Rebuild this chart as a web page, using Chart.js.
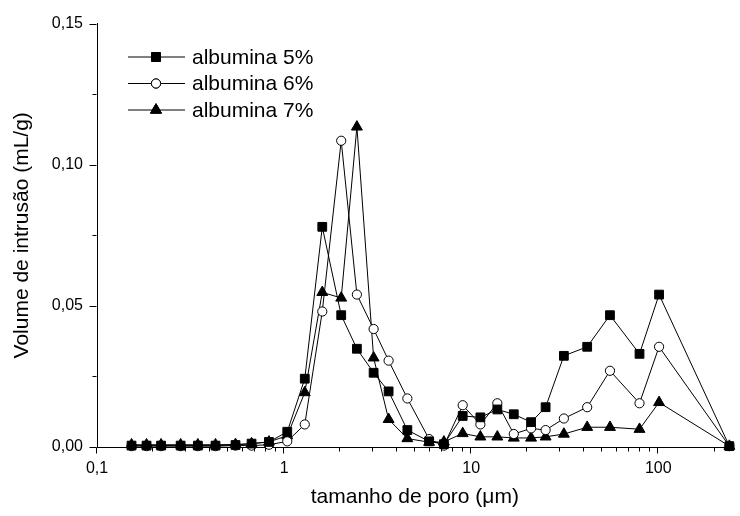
<!DOCTYPE html>
<html>
<head>
<meta charset="utf-8">
<script src="https://cdn.jsdelivr.net/npm/chart.js@4.4.0/dist/chart.umd.min.js"></script>
<style>
  html, body { margin: 0; padding: 0; background: #fff; }
  #wrap { width: 740px; height: 516px; }
</style>
</head>
<body>
<div id="wrap"><canvas id="poreChart"></canvas></div>
<script>
// pore size (um), shared by the three series
const poreSize = [0.153, 0.184, 0.22, 0.28, 0.346, 0.43, 0.55, 0.67, 0.83, 1.04,
    1.29, 1.60, 2.02, 2.45, 3.01, 3.62, 4.56, 5.96, 7.15, 9.01,
    11.2, 13.8, 16.9, 20.9, 25.0, 31.3, 41.7, 55.2, 79.4, 101, 240];

// intrusion volume (mL/g)
const albumina5 = [0.0005, 0.0005, 0.0005, 0.0005, 0.0005, 0.0005, 0.0007, 0.0012, 0.0018, 0.0054,
    0.0242, 0.078, 0.0467, 0.0348, 0.0263, 0.0197, 0.006, 0.002, 0.001, 0.011,
    0.0105, 0.0133, 0.0116, 0.0088, 0.0141, 0.0323, 0.0355, 0.0467, 0.033, 0.054, 0.0003];
const albumina6 = [0.0003, 0.0003, 0.0003, 0.0003, 0.0003, 0.0003, 0.0005, 0.0005, 0.0008, 0.002,
    0.008, 0.048, 0.1085, 0.054, 0.0418, 0.0306, 0.0172, 0.0028, 0.0005, 0.0148,
    0.008, 0.0155, 0.0046, 0.0066, 0.006, 0.0101, 0.0141, 0.027, 0.0155, 0.0355, 0.0003];
const albumina7 = [0.0008, 0.0008, 0.0008, 0.0008, 0.0008, 0.0008, 0.0009, 0.0012, 0.0018, 0.004,
    0.0193, 0.0548, 0.0528, 0.1134, 0.0316, 0.0098, 0.003, 0.0017, 0.0018, 0.0048,
    0.0036, 0.0036, 0.0032, 0.0032, 0.0036, 0.0046, 0.007, 0.007, 0.0063, 0.0158, 0.0003];

const seriesNames = ['albumina 5%', 'albumina 6%', 'albumina 7%'];

// axis ticks
const xMajorTicks = [0.1, 1, 10, 100];
const xTickLabels = ['0,1', '1', '10', '100'];
const xMinorTicks = [0.2, 0.3, 0.4, 0.5, 0.6, 0.7, 0.8, 0.9, 2, 3, 4, 5, 6, 7, 8, 9,
    20, 30, 40, 50, 60, 70, 80, 90, 200];
const yMajorTicks = [0, 0.05, 0.10, 0.15];
const yTickLabels = ['0,00', '0,05', '0,10', '0,15'];
const yMinorTicks = [0.025, 0.075, 0.125];

const FONT = "'Liberation Sans', Arial, sans-serif";

function toPoints(values) {
    return poreSize.map((x, i) => ({ x: x, y: values[i] }));
}

const styles = [
    { pointStyle: 'rect', pointRadius: 6.2, fill: '#000' },
    { pointStyle: 'circle', pointRadius: 4.6, fill: '#fff' },
    { pointStyle: 'triangle', pointRadius: 6.3, fill: '#000' }
];

// tick marks: longer majors, short minors, drawn outside the axes
const tickMarks = {
    id: 'tickMarks',
    afterDraw(chart) {
        const ctx = chart.ctx;
        const xs = chart.scales.x;
        const ys = chart.scales.y;
        ctx.save();
        ctx.strokeStyle = '#000';
        ctx.lineWidth = 1;
        ctx.beginPath();
        const bottom = Math.round(ys.bottom) + 0.5;
        const left = Math.round(xs.left) - 0.5;
        xMajorTicks.forEach(v => {
            const px = Math.round(xs.getPixelForValue(v)) - 0.5;
            ctx.moveTo(px, bottom); ctx.lineTo(px, bottom + 6);
        });
        xMinorTicks.forEach(v => {
            const px = Math.round(xs.getPixelForValue(v)) - 0.5;
            ctx.moveTo(px, bottom); ctx.lineTo(px, bottom + 4);
        });
        yMajorTicks.forEach(v => {
            const py = Math.round(ys.getPixelForValue(v)) + 0.5;
            ctx.moveTo(left, py); ctx.lineTo(left - 7, py);
        });
        yMinorTicks.forEach(v => {
            const py = Math.round(ys.getPixelForValue(v)) + 0.5;
            ctx.moveTo(left, py); ctx.lineTo(left - 4, py);
        });
        ctx.stroke();
        ctx.restore();
    }
};

// legend in the top-left corner: line with marker, then label
const lineLegend = {
    id: 'lineLegend',
    afterDraw(chart) {
        const ctx = chart.ctx;
        ctx.save();
        chart.data.datasets.forEach((ds, i) => {
            const y = 57 + i * 26.5;
            ctx.strokeStyle = '#000';
            ctx.lineWidth = 1;
            ctx.beginPath();
            ctx.moveTo(128, y); ctx.lineTo(185, y);
            ctx.stroke();
            Chart.helpers.drawPoint(ctx, {
                pointStyle: ds.pointStyle,
                radius: ds.pointRadius,
                borderWidth: 1,
                rotation: 0
            }, 156, y);
            ctx.fillStyle = ds.pointBackgroundColor;
            ctx.strokeStyle = '#000';
            ctx.fill();
            ctx.stroke();
            ctx.fillStyle = '#000';
            ctx.font = '21px ' + FONT;
            ctx.textBaseline = 'middle';
            ctx.fillText(ds.label, 192, y + 1);
        });
        ctx.restore();
    }
};

const datasets = [albumina5, albumina6, albumina7].map((vals, i) => ({
    label: seriesNames[i],
    data: toPoints(vals),
    showLine: true,
    borderColor: '#000',
    borderWidth: 1,
    pointStyle: styles[i].pointStyle,
    pointRadius: styles[i].pointRadius,
    pointBackgroundColor: styles[i].fill,
    pointBorderColor: '#000',
    pointBorderWidth: 1,
    tension: 0,
    clip: false
}));

new Chart(document.getElementById('poreChart'), {
    type: 'scatter',
    data: { datasets: datasets },
    plugins: [tickMarks, lineLegend],
    options: {
        responsive: true,
        maintainAspectRatio: false,
        animation: false,
        layout: { padding: { top: 20, right: 0, left: 0, bottom: 0 } },
        plugins: {
            legend: { display: false },
            tooltip: { enabled: false }
        },
        scales: {
            x: {
                type: 'logarithmic',
                min: 0.1,
                max: 250,
                afterBuildTicks: scale => {
                    scale.ticks = xMajorTicks.concat(xMinorTicks)
                        .sort((a, b) => a - b)
                        .map(v => ({ value: v }));
                },
                afterFit: scale => { scale.height = 69; },
                grid: { display: false, drawTicks: false },
                border: { display: true, color: '#000', width: 1 },
                ticks: {
                    autoSkip: false,
                    maxRotation: 0,
                    padding: 12,
                    color: '#000',
                    font: { family: FONT, size: 16 },
                    callback: value => {
                        const k = xMajorTicks.indexOf(value);
                        return k >= 0 ? xTickLabels[k] : '';
                    }
                },
                title: {
                    display: true,
                    text: 'tamanho de poro (\u03bcm)',
                    color: '#000',
                    font: { family: FONT, size: 21 },
                    padding: { top: 0, bottom: 6 }
                }
            },
            y: {
                min: 0,
                max: 0.15,
                afterBuildTicks: scale => {
                    scale.ticks = yMajorTicks.concat(yMinorTicks)
                        .sort((a, b) => a - b)
                        .map(v => ({ value: v }));
                },
                afterFit: scale => { scale.width = 97; },
                grid: { display: false, drawTicks: false },
                border: { display: true, color: '#000', width: 1 },
                ticks: {
                    autoSkip: false,
                    padding: 14,
                    color: '#000',
                    font: { family: FONT, size: 16 },
                    callback: value => {
                        const k = yMajorTicks.findIndex(t => Math.abs(t - value) < 1e-9);
                        return k >= 0 ? yTickLabels[k] : '';
                    }
                },
                title: {
                    display: true,
                    text: 'Volume de intrus\u00e3o (mL/g)',
                    color: '#000',
                    font: { family: FONT, size: 21 },
                    padding: { top: 10, bottom: 0 }
                }
            }
        }
    }
});
</script>
</body>
</html>
